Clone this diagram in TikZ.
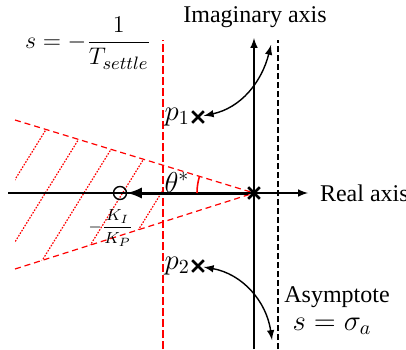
\documentclass[tikz,border=0pt]{standalone}
\usepackage{fontspec}
\setmainfont{Liberation Serif}
\usepackage{amsmath}
\usetikzlibrary{arrows,shapes,positioning}

\begin{document}
\begin{tikzpicture}[x=0.5pt,y=0.5pt]
\tikzstyle{every node}=[font=\fontsize{12}{14}\selectfont]
\tikzstyle{bigmath}=[font=\fontsize{14}{16}\selectfont]
\tikzstyle{polemark}=[cross out,draw,line width=1.3pt,minimum size=4.5pt,inner sep=0pt]
\tikzstyle{hatch}=[red,line width=0.6pt,dash pattern=on 0.8pt off 0.7pt]
\tikzstyle{cone}=[red,dash pattern=on 3pt off 2pt,line width=0.6pt]
\useasboundingbox (0,0) rectangle (406,349);
% points
\coordinate (O) at (254,156);
\coordinate (rl) at (8,156);
\coordinate (rr) at (308,156);
\coordinate (ib) at (254,0);
\coordinate (it) at (254,311);
\coordinate (cu) at (15,229);
\coordinate (cd) at (15,80);
\coordinate (t1) at (271,304);
\coordinate (t2) at (272,9);
% hatched region
\begin{scope}
\clip (cu) -- (163,183.8) -- (163,127.1) -- (cd) -- cycle;
\foreach \hx in {46,78.5,111,143.5,176}{
  \pgfmathsetmacro{\hy}{156+(254-\hx)*0.305}
  \draw[hatch] (\hx+37.2,\hy+60) -- ++(-161.2,-260);
}
\end{scope}
% cone
\draw[cone] (cu) -- (O);
\draw[cone] (cd) -- (O);
% vertical lines
\draw[red,line width=1.2pt,dash pattern=on 4pt off 1.5pt] (163,0) -- (163,309);
\draw[line width=1pt,dash pattern=on 3pt off 1.5pt] (278,0) -- (278,309);
% axes
\draw[-latex,line width=0.7pt] (rl) -- (rr);
\draw[-latex,line width=0.7pt] (ib) -- (it);
\node[anchor=west] (real) at (313,156) {Real axis};
\node (imag) at (255,332) {Imaginary axis};
% poles and zero
\node[polemark] (z0) at (O) {};
\node[polemark] (p1) at (198,232) {};
\node[polemark] (p2) at (198,83) {};
\node[bigmath,left=0pt of p1,inner sep=1pt] (p1lab) {$p_1$};
\node[bigmath,left=0pt of p2,inner sep=1pt] (p2lab) {$p_2$};
\node[circle,draw,line width=0.7pt,minimum size=6.5pt,inner sep=0pt] (zero) at (120,156) {};
\draw[-latex,line width=1.5pt] (z0) -- (zero);
% angle
\draw[red,line width=0.8pt] (O) ++(163:57) arc[start angle=163,end angle=180,radius=57];
\node[bigmath,inner sep=0pt] (theta) at (177,167) {$\theta^*$};
% root locus branches
\draw[latex-latex,line width=0.7pt] (p1) to[out=12,in=256] (t1);
\draw[latex-latex,line width=0.7pt] (p2) to[out=-10,in=98] (t2);
% labels
\node[inner sep=0pt,font=\fontsize{8.5}{10}\selectfont] (kilab) at (111,121) {$-\dfrac{K_I}{K_P}$};
\node[font=\fontsize{13}{15}\selectfont] (settle) at (88,306) {$s=-\dfrac{1}{T_{settle}}$};
\node[inner sep=0pt] (asym) at (337,52) {Asymptote};
\node[bigmath,inner sep=0pt] (sig) at (332,23) {$s=\sigma_a$};
\end{tikzpicture}
\end{document}
